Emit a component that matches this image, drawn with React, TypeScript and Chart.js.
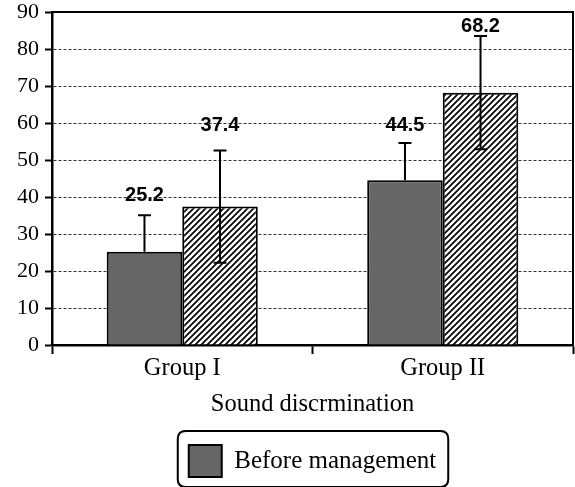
import React, { useEffect, useRef } from "react";
import { Chart, registerables } from "chart.js";

Chart.register(...registerables);

const categories = ["Group I", "Group II"];
const seriesNames = ["Before management", "After management"];
const beforeValues = [25.2, 44.5];
const afterValues = [37.4, 68.2];
const beforeSD = [9.9, 10.1];
const afterSD = [15.2, 15.3];
const beforeLabelText = ["25.2", "44.5"];
const afterLabelText = ["37.4", "68.2"];
const beforeLabelY = [40.5, 59.2];
const afterLabelY = [59.2, 86.2];
const yMin = 0;
const yMax = 90;
const yStep = 10;
const xTitle = "Sound discrmination";

const SERIF = "'Liberation Serif', 'Times New Roman', serif";
const SANS = "'Liberation Sans', Arial, sans-serif";

function makeHatch(): CanvasPattern | string {
  const c = document.createElement("canvas");
  const s = 6;
  c.width = s;
  c.height = s;
  const g = c.getContext("2d");
  if (!g) return "#fff";
  g.fillStyle = "#fff";
  g.fillRect(0, 0, s, s);
  g.strokeStyle = "#000";
  g.lineWidth = 1.7;
  g.beginPath();
  g.moveTo(-1, s + 1);
  g.lineTo(s + 1, -1);
  g.moveTo(-1, 1);
  g.lineTo(1, -1);
  g.moveTo(s - 1, s + 1);
  g.lineTo(s + 1, s - 1);
  g.stroke();
  const p = g.createPattern(c, "repeat");
  return p || "#fff";
}

export default function App() {
  const ref = useRef<HTMLCanvasElement | null>(null);

  useEffect(() => {
    document.body.style.margin = "0";
    const canvas = ref.current;
    if (!canvas) return;
    const hatch = makeHatch();

    const sds = [beforeSD, afterSD];
    const lowerVisible = [false, true];
    const labelTexts = [beforeLabelText, afterLabelText];
    const labelYs = [beforeLabelY, afterLabelY];

    const errorBars = {
      id: "errorBars",
      afterDatasetsDraw(chart: any) {
        const ctx = chart.ctx;
        const ys = chart.scales.y;
        ctx.save();
        ctx.strokeStyle = "#000";
        ctx.lineWidth = 2;
        chart.data.datasets.forEach((ds: any, di: number) => {
          const meta = chart.getDatasetMeta(di);
          meta.data.forEach((bar: any, i: number) => {
            const v = ds.data[i];
            const sd = sds[di][i];
            const yTop = ys.getPixelForValue(v + sd);
            const yBot = lowerVisible[di] ? ys.getPixelForValue(v - sd) : ys.getPixelForValue(v);
            const x = bar.x;
            ctx.beginPath();
            ctx.moveTo(x, yTop);
            ctx.lineTo(x, yBot);
            ctx.moveTo(x - 6.5, yTop);
            ctx.lineTo(x + 6.5, yTop);
            if (lowerVisible[di]) {
              ctx.moveTo(x - 6.5, yBot);
              ctx.lineTo(x + 6.5, yBot);
            }
            ctx.stroke();
          });
        });
        // value labels
        ctx.fillStyle = "#000";
        ctx.font = `bold 20px ${SANS}`;
        ctx.textAlign = "center";
        ctx.textBaseline = "middle";
        chart.data.datasets.forEach((ds: any, di: number) => {
          const meta = chart.getDatasetMeta(di);
          meta.data.forEach((bar: any, i: number) => {
            ctx.fillText(labelTexts[di][i], bar.x, ys.getPixelForValue(labelYs[di][i]));
          });
        });
        ctx.restore();
      },
    };

    const frame = {
      id: "frame",
      afterDraw(chart: any) {
        const ctx = chart.ctx;
        const a = chart.chartArea;
        ctx.save();
        ctx.strokeStyle = "#000";
        ctx.lineWidth = 2;
        ctx.beginPath();
        ctx.moveTo(a.left, a.top);
        ctx.lineTo(a.right, a.top);
        ctx.lineTo(a.right, a.bottom);
        ctx.stroke();
        // legend border
        const lg = chart.legend;
        if (lg && lg.legendHitBoxes && lg.legendHitBoxes.length) {
          const h = lg.legendHitBoxes[0];
          const l = h.left - 11;
          const t = h.top - 14;
          const r = h.left + h.width + 12;
          const b = h.top + h.height + 10;
          const rad = 8;
          ctx.lineWidth = 2;
          ctx.beginPath();
          ctx.moveTo(l + rad, t);
          ctx.lineTo(r - rad, t);
          ctx.quadraticCurveTo(r, t, r, t + rad);
          ctx.lineTo(r, b - rad);
          ctx.quadraticCurveTo(r, b, r - rad, b);
          ctx.lineTo(l + rad, b);
          ctx.quadraticCurveTo(l, b, l, b - rad);
          ctx.lineTo(l, t + rad);
          ctx.quadraticCurveTo(l, t, l + rad, t);
          ctx.stroke();
        }
        ctx.restore();
      },
    };

    const chart = new Chart(canvas, {
      type: "bar",
      data: {
        labels: categories,
        datasets: [
          {
            label: seriesNames[0],
            data: beforeValues,
            backgroundColor: "#666666",
            borderColor: "#000",
            borderWidth: 2,
            barPercentage: 1,
            categoryPercentage: 0.58,
          },
          {
            label: seriesNames[1],
            data: afterValues,
            backgroundColor: hatch as any,
            borderColor: "#000",
            borderWidth: 2,
            barPercentage: 1,
            categoryPercentage: 0.58,
          },
        ],
      },
      options: {
        animation: false,
        responsive: false,
        maintainAspectRatio: false,
        layout: { padding: { top: 12, right: 2, left: 0, bottom: 0 } },
        plugins: {
          tooltip: { enabled: false },
          legend: {
            display: true,
            position: "bottom",
            fullSize: false,
            labels: {
              filter: (item: any) => item.datasetIndex === 0,
              boxWidth: 33,
              boxHeight: 32,
              padding: 12,
              color: "#000",
              font: { family: SERIF, size: 25 },
            },
          },
        },
        scales: {
          x: {
            offset: true,
            grid: {
              offset: true,
              drawOnChartArea: false,
              drawTicks: true,
              tickLength: 9,
              tickColor: "#000",
              tickWidth: 2,
            },
            border: { display: true, color: "#000", width: 2.5 },
            ticks: { color: "#000", font: { family: SERIF, size: 24.5 }, padding: 0 },
            title: {
              display: true,
              text: xTitle,
              color: "#000",
              font: { family: SERIF, size: 24.5 },
              padding: { top: 8, bottom: 14 },
            },
            afterFit: (s: any) => {
              s.height = 88;
            },
          },
          y: {
            min: yMin,
            max: yMax,
            ticks: {
              stepSize: yStep,
              color: "#000",
              font: { family: SERIF, size: 22, lineHeight: 1 },
              padding: 6,
            },
            grid: {
              color: "#333",
              lineWidth: 1,
              tickLength: 7,
              tickColor: "#000",
              tickWidth: 2,
              tickBorderDash: [],
            } as any,
            border: { display: true, color: "#000", width: 2.5, dash: [3, 2] },
            afterFit: (s: any) => {
              s.width = 52;
              s.paddingTop = 0;
              s.paddingBottom = 0;
            },
          },
        },
      },
      plugins: [errorBars, frame],
    });
    return () => chart.destroy();
  }, []);

  return (
    <div style={{ width: 575, height: 487, background: "#fff" }}>
      <canvas ref={ref} width={575} height={487} style={{ display: "block", width: 575, height: 487 }} />
    </div>
  );
}
